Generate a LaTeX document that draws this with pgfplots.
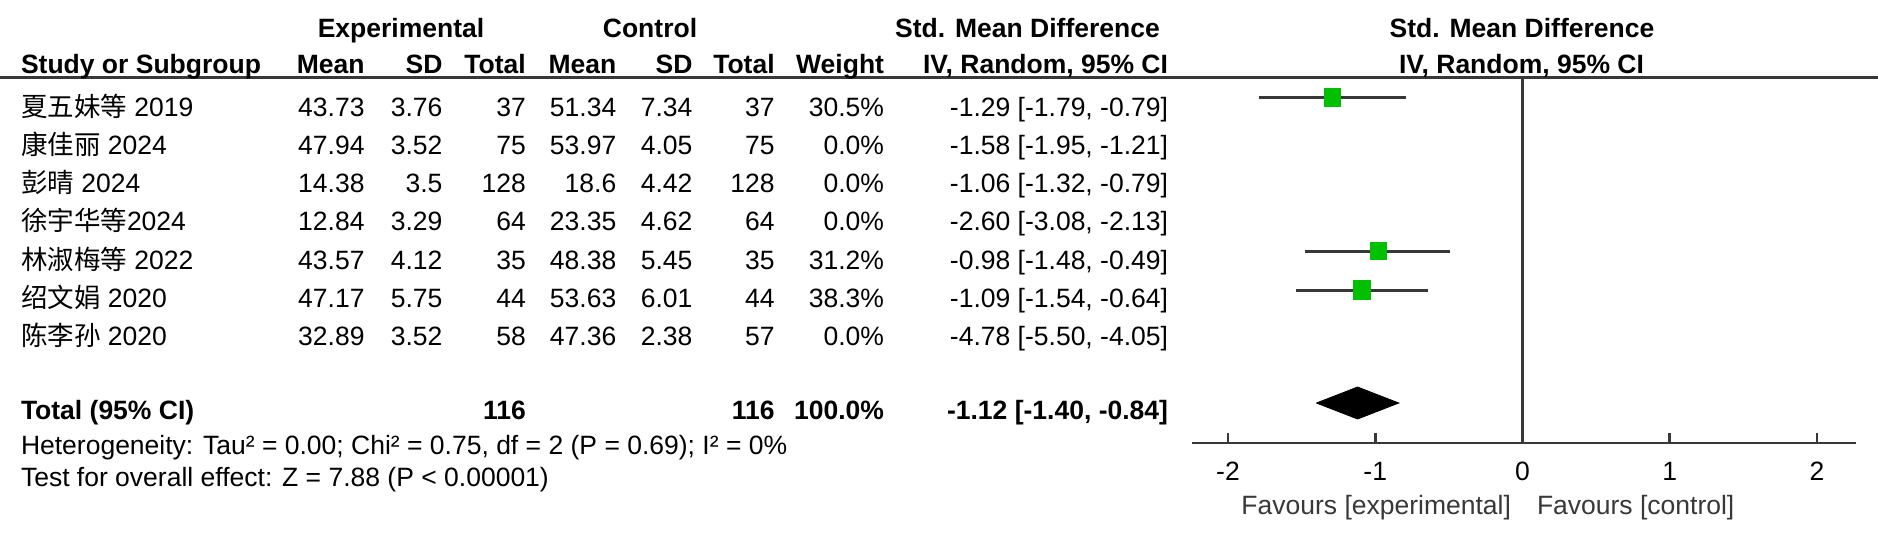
\documentclass[border=0pt]{standalone}
\usepackage{fontspec}
\setmainfont{Liberation Sans}
\newfontfamily\cjk{Noto Sans CJK SC}
\usepackage{pgfplots}
\pgfplotsset{compat=1.18}
\definecolor{fgreen}{RGB}{0,192,0}
\definecolor{dgray}{RGB}{56,56,56}
\newcommand\fs{\fontsize{13.25}{15}\selectfont}
% one table row: baseline(px), name, mean E, SD E, total E, mean C, SD C, total C, weight
\newcommand\row[9]{%
  \node[anchor=base west] at (21,#1) {#2};
  \node[anchor=base east] at (364.5,#1) {#3};
  \node[anchor=base east] at (442.4,#1) {#4};
  \node[anchor=base east] at (525.8,#1) {#5};
  \node[anchor=base east] at (616.3,#1) {#6};
  \node[anchor=base east] at (692.4,#1) {#7};
  \node[anchor=base east] at (774.6,#1) {#8};
  \node[anchor=base east] at (884,#1) {#9};}
\newcommand\ci[2]{\node[anchor=base east] at (1168,#1) {#2};}
\begin{document}
\begin{tikzpicture}[font=\fs]
\path[use as bounding box] (0pt,0pt) rectangle (939pt,-269pt);
\begin{scope}[x=0.5pt,y=-0.5pt,every node/.style={inner sep=0pt,outer sep=0pt,font=\fs}]
  \draw[dgray, line width=1.6pt] (0,77.5) -- (1878,77.5);
  % header
  \node[anchor=base,font=\fs\bfseries] at (401,37) {Experimental};
  \node[anchor=base,font=\fs\bfseries] at (650,37) {Control};
  \node[anchor=base,font=\fs\bfseries] at (1027.5,37) {Std. Mean Difference};
  \node[anchor=base,font=\fs\bfseries] at (1522,37) {Std. Mean Difference};
  \node[anchor=base west,font=\fs\bfseries] at (21,73) {Study or Subgroup};
  \node[anchor=base east,font=\fs\bfseries] at (364.5,73) {Mean};
  \node[anchor=base east,font=\fs\bfseries] at (442.4,73) {SD};
  \node[anchor=base east,font=\fs\bfseries] at (525.8,73) {Total};
  \node[anchor=base east,font=\fs\bfseries] at (616.3,73) {Mean};
  \node[anchor=base east,font=\fs\bfseries] at (692.4,73) {SD};
  \node[anchor=base east,font=\fs\bfseries] at (774.6,73) {Total};
  \node[anchor=base east,font=\fs\bfseries] at (884,73) {Weight};
  \node[anchor=base east,font=\fs\bfseries] at (1168,73) {IV, Random, 95\% CI};
  \node[anchor=base,font=\fs\bfseries] at (1521.5,73) {IV, Random, 95\% CI};
  % rows
  \row{116}{{\cjk 夏五妹等} 2019}{43.73}{3.76}{37}{51.34}{7.34}{37}{30.5\%}
  \ci{116}{-1.29 [-1.79, -0.79]}
  \row{154.3}{{\cjk 康佳丽} 2024}{47.94}{3.52}{75}{53.97}{4.05}{75}{0.0\%}
  \ci{154.3}{-1.58 [-1.95, -1.21]}
  \row{192.6}{{\cjk 彭晴} 2024}{14.38}{3.5}{128}{18.6}{4.42}{128}{0.0\%}
  \ci{192.6}{-1.06 [-1.32, -0.79]}
  \row{230.9}{{\cjk 徐宇华等}2024}{12.84}{3.29}{64}{23.35}{4.62}{64}{0.0\%}
  \ci{230.9}{-2.60 [-3.08, -2.13]}
  \row{269.2}{{\cjk 林淑梅等} 2022}{43.57}{4.12}{35}{48.38}{5.45}{35}{31.2\%}
  \ci{269.2}{-0.98 [-1.48, -0.49]}
  \row{307.5}{{\cjk 绍文娟} 2020}{47.17}{5.75}{44}{53.63}{6.01}{44}{38.3\%}
  \ci{307.5}{-1.09 [-1.54, -0.64]}
  \row{345.8}{{\cjk 陈李孙} 2020}{32.89}{3.52}{58}{47.36}{2.38}{57}{0.0\%}
  \ci{345.8}{-4.78 [-5.50, -4.05]}
  % total
  \node[anchor=base west,font=\fs\bfseries] at (21,419) {Total (95\% CI)};
  \node[anchor=base east,font=\fs\bfseries] at (525.8,419) {116};
  \node[anchor=base east,font=\fs\bfseries] at (774.6,419) {116};
  \node[anchor=base east,font=\fs\bfseries] at (884,419) {100.0\%};
  \node[anchor=base east,font=\fs\bfseries] at (1168,419) {-1.12 [-1.40, -0.84]};
  \node[anchor=base west] at (21,454) {Heterogeneity: Tau² = 0.00; Chi² = 0.75, df = 2 (P = 0.69); I² = 0\%};
  \node[anchor=base west] at (21,486) {Test for overall effect: Z = 7.88 (P < 0.00001)};
  % favours
  \node[anchor=base east,text=dgray] at (1511,514) {Favours [experimental]};
  \node[anchor=base west,text=dgray] at (1537,514) {Favours [control]};
\end{scope}
\begin{axis}[
  at={(596pt,-221.5pt)}, anchor=south west,
  scale only axis, width=332pt, height=182.75pt,
  xmin=-2.2445, xmax=2.2648, ymin=-443, ymax=-77.5,
  axis x line=bottom, axis y line=none,
  x axis line style={-, dgray, line width=1.4pt},
  xtick={-2,-1,0,1,2}, xticklabels={-2,-1,0,1,2},
  tick align=inside, major tick length=5pt,
  tick style={dgray, line width=1.3pt},
  xticklabel style={anchor=base, yshift=-18.75pt, font=\fs, text=black, inner sep=0pt},
  clip=false,
]
\addplot[dgray, line width=1.3pt, mark=none] coordinates {(0,-77.5) (0,-443)};
% confidence intervals
\addplot[dgray, line width=1.5pt, mark=none] coordinates {(-1.79,-97) (-0.79,-97)};
\addplot[dgray, line width=1.5pt, mark=none] coordinates {(-1.48,-251) (-0.49,-251)};
\addplot[dgray, line width=1.5pt, mark=none] coordinates {(-1.54,-290) (-0.64,-290)};
% point estimates
\addplot[only marks, mark=square*, mark size=4pt, fgreen, mark options={yscale=1.12}] coordinates {(-1.29,-97)};
\addplot[only marks, mark=square*, mark size=3.9pt, fgreen, mark options={yscale=1.1}] coordinates {(-0.98,-251)};
\addplot[only marks, mark=square*, mark size=4.4pt, fgreen, mark options={yscale=1.1}] coordinates {(-1.09,-290)};
% pooled diamond
\addplot[fill=black, draw=black, mark=none] coordinates {(-1.40,-403) (-1.12,-387) (-0.84,-403) (-1.12,-419) (-1.40,-403)};
\end{axis}
\end{tikzpicture}
\end{document}
